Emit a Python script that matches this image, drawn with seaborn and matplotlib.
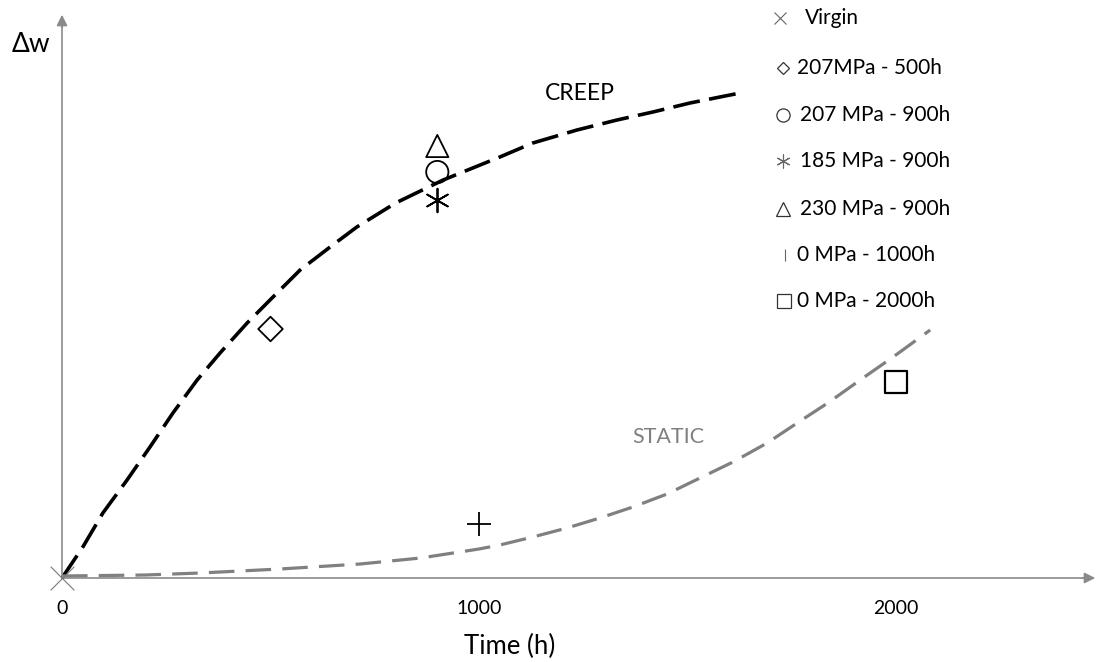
import matplotlib
matplotlib.use("Agg")
import matplotlib.pyplot as plt
import seaborn as sns

# ---------------- data ----------------
creep_t = [0, 50, 98, 156, 211, 266, 324, 379, 444, 506, 571, 643, 707, 800,
           914, 1050, 1129, 1235, 1331, 1417, 1506, 1626]
creep_dw = [0, 31, 65, 98, 131, 165, 198, 225, 255, 281, 308, 331, 351, 375,
            398, 421, 435, 448, 458, 466, 475, 485]

static_t = [0, 200, 331, 523, 715, 860, 1000, 1050, 1129, 1211, 1290, 1369,
            1451, 1530, 1609, 1691, 1763, 1840, 1914, 1993, 2082]
static_dw = [2, 3, 5, 9, 14, 20, 29, 33, 41, 50, 60, 71, 84, 100, 116, 135,
             155, 176, 198, 221, 248]

sample_labels = ["Virgin", "207MPa - 500h", "207 MPa - 900h", "185 MPa - 900h",
                 "230 MPa - 900h", "0 MPa - 1000h", "0 MPa - 2000h"]
sample_t = [0, 500, 900, 900, 900, 1000, 2000]
sample_dw = [0, 249, 406, 378, 432, 54, 196]

tick_values = [0, 1000, 2000]
tick_labels = ["0", "1000", "2000"]

# ---------------- styling ----------------
sns.set_theme(style="white")
plt.rcParams["font.family"] = ["Lato", "DejaVu Sans"]

W, H = 1099, 662
fig = plt.figure(figsize=(W / 100, H / 100), dpi=100)
ax = fig.add_axes([0, 0, 1, 1])
ax.set_facecolor("white")

PXX = 0.417          # px per hour
X0, Y0 = 62, 578     # origin in pixels
ax.set_xlim(-X0 / PXX, (W - X0) / PXX)
ax.set_ylim(Y0 - H, Y0)

axis_gray = "#8a8a8a"

# curves
sns.lineplot(x=creep_t, y=creep_dw, ax=ax, color="black", lw=2.6, sort=False,
             estimator=None)
ax.lines[-1].set_dashes([7.5, 2.6])
sns.lineplot(x=static_t, y=static_dw, ax=ax, color="#808080", lw=2.3, sort=False,
             estimator=None)
ax.lines[-1].set_dashes([8, 3.5])

# sample markers
markers = ["x", "D", "o", (6, 2, 0), "^", "+", "s"]
sizes = [17, 12.5, 16, 17, 16, 17, 16.5]
for i in range(len(sample_t)):
    m = markers[i]
    ms = sizes[i]
    if i == 0:
        sns.scatterplot(x=[sample_t[i]], y=[sample_dw[i]], ax=ax, marker=m,
                        s=ms ** 2, color="#7a7a7a", linewidth=0.8, zorder=5)
    elif m in ("+",) or isinstance(m, tuple):
        sns.scatterplot(x=[sample_t[i]], y=[sample_dw[i]], ax=ax, marker=m,
                        s=ms ** 2, color="black", linewidth=1.3, zorder=5)
    else:
        sns.scatterplot(x=[sample_t[i]], y=[sample_dw[i]], ax=ax, marker=m,
                        s=ms ** 2, facecolor="none", edgecolor="black",
                        linewidth=1.3 if m != "s" else 1.6, zorder=5)

# axes with arrows
for s in ["top", "right"]:
    ax.spines[s].set_visible(False)
ax.spines["bottom"].set_position(("data", 0))
ax.spines["left"].set_position(("data", 0))
ax.spines["bottom"].set_bounds(0, (1090 - X0) / PXX)
ax.spines["left"].set_bounds(0, Y0 - 22)
for s in ["bottom", "left"]:
    ax.spines[s].set_color(axis_gray)
    ax.spines[s].set_linewidth(1.2)
ax.annotate("", xy=((1098 - X0) / PXX, 0), xytext=((1080 - X0) / PXX, 0),
            arrowprops=dict(arrowstyle="-|>", color=axis_gray, lw=1.2,
                            mutation_scale=16), annotation_clip=False)
ax.annotate("", xy=(0, Y0 - 12), xytext=(0, Y0 - 30),
            arrowprops=dict(arrowstyle="-|>", color=axis_gray, lw=1.2,
                            mutation_scale=16), annotation_clip=False)

ax.set_xticks(tick_values)
ax.set_xticklabels(tick_labels, fontsize=14, color="black")
ax.tick_params(axis="x", length=0, pad=16)
ax.set_yticks([])
ax.grid(False)
ax.set_xlabel("")
ax.set_ylabel("")

def fx(px):
    return px / W

def fy(py):
    return 1 - py / H

ax.text(fx(510), fy(646), "Time (h)", transform=ax.transAxes, fontsize=18.5,
        ha="center", va="center", color="black")
ax.text(fx(31), fy(45), "Δw", transform=ax.transAxes, fontsize=19,
        ha="center", va="center", color="black")
ax.text(fx(580), fy(94), "CREEP", transform=ax.transAxes, fontsize=16.5,
        ha="center", va="center", color="black")
ax.text(fx(668), fy(437), "STATIC", transform=ax.transAxes, fontsize=15.5,
        ha="center", va="center", color="#808080")

# manual legend
leg_markers = ["x", "D", "o", (6, 2, 0), "^", "|", "s"]
leg_mx = [780, 783, 783, 783, 783, 785, 784]
leg_my = [18, 68, 115, 161, 209, 255, 301]
leg_tx = [805, 797, 800, 800, 800, 797, 797]
leg_ms = [9, 6.5, 9.5, 10, 10, 9, 10]
for i, lab in enumerate(sample_labels):
    m = leg_markers[i]
    filled = m in ("D", "o", "^", "s")
    kw = dict(marker=m, markersize=leg_ms[i], transform=ax.transAxes,
              clip_on=False, linestyle="none")
    if filled:
        ax.plot([fx(leg_mx[i])], [fy(leg_my[i])], markerfacecolor="none",
                markeredgecolor="#333333", markeredgewidth=0.9, **kw)
    else:
        ax.plot([fx(leg_mx[i])], [fy(leg_my[i])], color="#666666",
                markeredgewidth=0.8, **kw)
    ax.text(fx(leg_tx[i]), fy(leg_my[i]), lab, transform=ax.transAxes,
            fontsize=15, ha="left", va="center", color="black")

fig.savefig("out.png", dpi=100, facecolor="white")
